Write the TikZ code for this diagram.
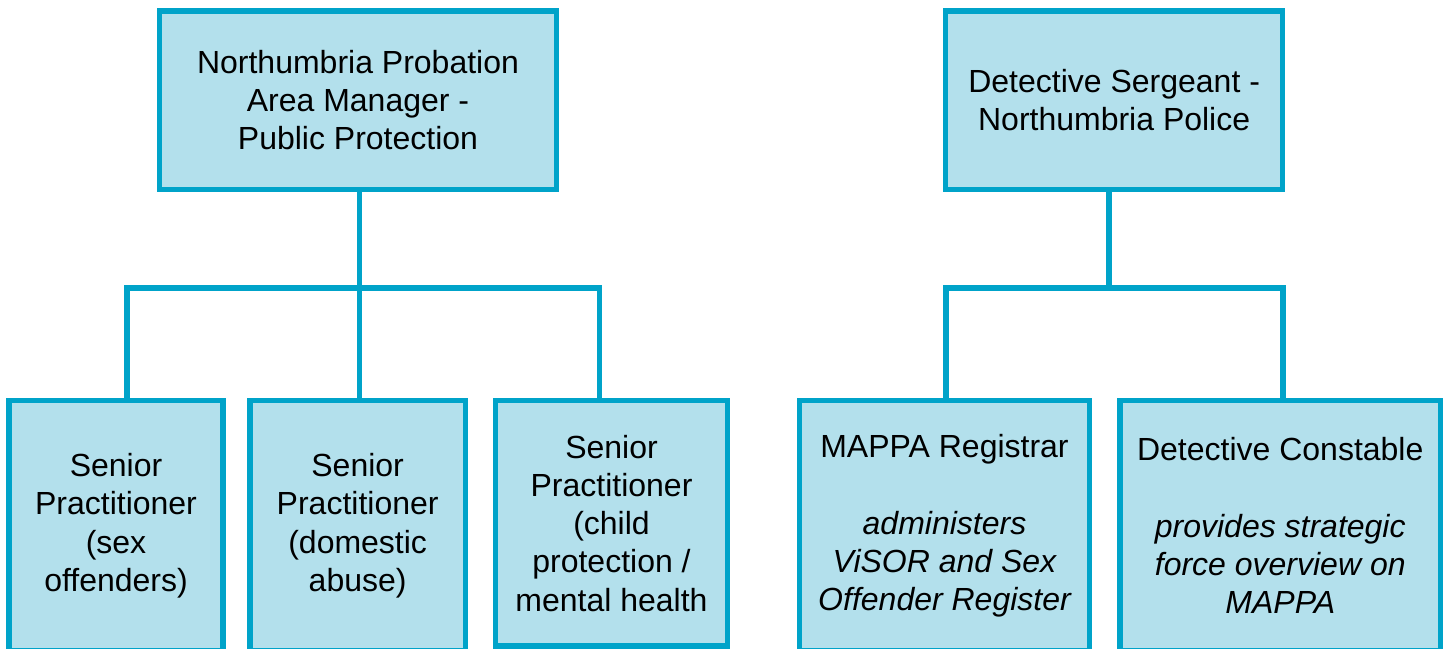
\documentclass[tikz,border=0pt]{standalone}
\usepackage{fontspec}
\setmainfont{Liberation Sans}
\definecolor{bord}{RGB}{0,163,201}
\definecolor{boxfill}{RGB}{179,224,236}
\begin{document}
\begin{tikzpicture}[x=1pt,y=-1pt,
  box/.style={draw=bord, fill=boxfill, line width=5.3pt, inner sep=0pt, align=center,
              font=\fontsize{32}{38.3}\selectfont},
  conn/.style={draw=bord, line width=5.5pt, line join=miter}]
\useasboundingbox (0,0) rectangle (1448,648);
\clip (0,0) rectangle (1448,648);
% top boxes
\node[box, minimum width=397pt, minimum height=178.5pt] (tl) at (358,100.25)
  {Northumbria Probation\\Area Manager -\\Public Protection};
\node[box, minimum width=336.7pt, minimum height=178.5pt] (tr) at (1114.15,100.25)
  {Detective Sergeant -\\Northumbria Police};
% bottom boxes
\node[box, minimum width=214pt, minimum height=250.5pt] (b1) at (116,525.75)
  {Senior\\Practitioner\\(sex\\offenders)};
\node[box, minimum width=215.3pt, minimum height=250.5pt] (b2) at (357.65,525.75)
  {Senior\\Practitioner\\(domestic\\abuse)};
\node[box, minimum width=232pt, minimum height=245.5pt] (b3) at (611.5,523.25)
  {Senior\\Practitioner\\(child\\protection /\\mental health};
\node[box, minimum width=290pt, minimum height=250.5pt] (b4) at (944.5,525.75)
  {MAPPA Registrar\\[38.3pt]\itshape administers\\\itshape ViSOR and Sex\\\itshape Offender Register};
\node[box, minimum width=320.5pt, minimum height=250.5pt] (b5) at (1280.25,525.75)
  {Detective Constable\\[38.3pt]\itshape provides strategic\\\itshape force overview on\\\itshape MAPPA};
% junction coordinates
\coordinate (c1) at (127,288);
\coordinate (c2) at (359.5,288);
\coordinate (c3) at (599.5,288);
\coordinate (c4) at (946,288);
\coordinate (c6) at (1109,288);
\coordinate (c5) at (1282.8,288);
% connectors
\draw[conn] (c1 |- b1.north) -- (c1) -- (c3) -- (c3 |- b3.north);
\draw[conn] (c2 |- tl.south) -- (c2 |- b2.north);
\draw[conn] (c4 |- b4.north) -- (c4) -- (c5) -- (c5 |- b5.north);
\draw[conn] (c6 |- tr.south) -- (c6);
\end{tikzpicture}
\end{document}
